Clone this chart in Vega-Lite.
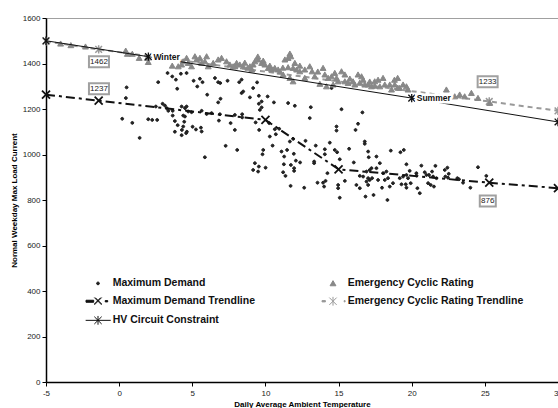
{
"$schema":"https://vega.github.io/schema/vega-lite/v6.json",
"width":512,"height":364,
"autosize":{"type":"none"},
"padding":{"left":46,"top":18,"right":0,"bottom":26},
"background":"white",
"config":{
 "font":"Liberation Sans",
 "view":{"stroke":"#a0a0a0","strokeWidth":1},
 "axis":{"grid":false,"domainColor":"#000","domainWidth":1.5,"tickColor":"#000","tickWidth":1,"tickSize":4,"labelFont":"Liberation Sans","labelFontSize":8,"labelColor":"#222","titleFont":"Liberation Sans","titleFontSize":8,"titleFontWeight":"bold","titleColor":"#000"}
},
"datasets":{
 "scatter":[
{"s":"Maximum Demand","t":0.21,"v":1157},{"s":"Maximum Demand","t":0.51,"v":1295},{"s":"Maximum Demand","t":0.46,"v":1248},{"s":"Maximum Demand","t":0.9,"v":1139},{"s":"Maximum Demand","t":1.4,"v":1073},{"s":"Maximum Demand","t":1.99,"v":1155},{"s":"Maximum Demand","t":2.26,"v":1152},{"s":"Maximum Demand","t":2.6,"v":1152},{"s":"Maximum Demand","t":2.67,"v":1318},{"s":"Maximum Demand","t":2.51,"v":1211},{"s":"Maximum Demand","t":2.97,"v":1223},{"s":"Maximum Demand","t":3.13,"v":1215},{"s":"Maximum Demand","t":3.25,"v":1204},{"s":"Maximum Demand","t":3.31,"v":1358},{"s":"Maximum Demand","t":3.63,"v":1343},{"s":"Maximum Demand","t":3.88,"v":1329},{"s":"Maximum Demand","t":4.22,"v":1355},{"s":"Maximum Demand","t":4.61,"v":1358},{"s":"Maximum Demand","t":3.97,"v":1289},{"s":"Maximum Demand","t":3.36,"v":1192},{"s":"Maximum Demand","t":3.66,"v":1192},{"s":"Maximum Demand","t":3.66,"v":1171},{"s":"Maximum Demand","t":4.27,"v":1211},{"s":"Maximum Demand","t":4.5,"v":1204},{"s":"Maximum Demand","t":4.61,"v":1211},{"s":"Maximum Demand","t":4.72,"v":1189},{"s":"Maximum Demand","t":4.38,"v":1171},{"s":"Maximum Demand","t":4.5,"v":1167},{"s":"Maximum Demand","t":4.95,"v":1186},{"s":"Maximum Demand","t":3.81,"v":1147},{"s":"Maximum Demand","t":4.45,"v":1144},{"s":"Maximum Demand","t":4.0,"v":1129},{"s":"Maximum Demand","t":4.38,"v":1123},{"s":"Maximum Demand","t":4.29,"v":1108},{"s":"Maximum Demand","t":5.02,"v":1122},{"s":"Maximum Demand","t":5.25,"v":1110},{"s":"Maximum Demand","t":5.59,"v":1118},{"s":"Maximum Demand","t":5.64,"v":1101},{"s":"Maximum Demand","t":3.81,"v":1100},{"s":"Maximum Demand","t":4.63,"v":1100},{"s":"Maximum Demand","t":4.58,"v":1094},{"s":"Maximum Demand","t":4.27,"v":1085},{"s":"Maximum Demand","t":5.09,"v":1324},{"s":"Maximum Demand","t":5.52,"v":1333},{"s":"Maximum Demand","t":5.7,"v":1318},{"s":"Maximum Demand","t":5.34,"v":1299},{"s":"Maximum Demand","t":6.02,"v":1263},{"s":"Maximum Demand","t":5.64,"v":1192},{"s":"Maximum Demand","t":5.98,"v":1178},{"s":"Maximum Demand","t":6.32,"v":1182},{"s":"Maximum Demand","t":6.55,"v":1336},{"s":"Maximum Demand","t":6.77,"v":1318},{"s":"Maximum Demand","t":6.91,"v":1314},{"s":"Maximum Demand","t":7.41,"v":1324},{"s":"Maximum Demand","t":6.93,"v":1245},{"s":"Maximum Demand","t":6.77,"v":1229},{"s":"Maximum Demand","t":6.89,"v":1177},{"s":"Maximum Demand","t":6.82,"v":1149},{"s":"Maximum Demand","t":7.62,"v":1138},{"s":"Maximum Demand","t":7.91,"v":1108},{"s":"Maximum Demand","t":7.28,"v":1038},{"s":"Maximum Demand","t":5.86,"v":988},{"s":"Maximum Demand","t":8.07,"v":1020},{"s":"Maximum Demand","t":8.37,"v":1329},{"s":"Maximum Demand","t":8.21,"v":1318},{"s":"Maximum Demand","t":8.48,"v":1277},{"s":"Maximum Demand","t":8.37,"v":1270},{"s":"Maximum Demand","t":9.16,"v":1292},{"s":"Maximum Demand","t":8.94,"v":1251},{"s":"Maximum Demand","t":9.55,"v":1258},{"s":"Maximum Demand","t":10.15,"v":1255},{"s":"Maximum Demand","t":9.43,"v":1317},{"s":"Maximum Demand","t":9.74,"v":1233},{"s":"Maximum Demand","t":9.55,"v":1223},{"s":"Maximum Demand","t":9.74,"v":1207},{"s":"Maximum Demand","t":9.62,"v":1196},{"s":"Maximum Demand","t":10.58,"v":1229},{"s":"Maximum Demand","t":7.91,"v":1174},{"s":"Maximum Demand","t":8.41,"v":1177},{"s":"Maximum Demand","t":8.41,"v":1163},{"s":"Maximum Demand","t":9.33,"v":1141},{"s":"Maximum Demand","t":10.26,"v":1138},{"s":"Maximum Demand","t":9.57,"v":1108},{"s":"Maximum Demand","t":10.64,"v":1111},{"s":"Maximum Demand","t":10.94,"v":1113},{"s":"Maximum Demand","t":10.71,"v":1089},{"s":"Maximum Demand","t":10.3,"v":1079},{"s":"Maximum Demand","t":10.49,"v":1039},{"s":"Maximum Demand","t":9.85,"v":1020},{"s":"Maximum Demand","t":9.8,"v":1001},{"s":"Maximum Demand","t":9.28,"v":962},{"s":"Maximum Demand","t":9.55,"v":947},{"s":"Maximum Demand","t":9.16,"v":932},{"s":"Maximum Demand","t":9.5,"v":925},{"s":"Maximum Demand","t":10.01,"v":942},{"s":"Maximum Demand","t":11.1,"v":1013},{"s":"Maximum Demand","t":11.48,"v":1020},{"s":"Maximum Demand","t":11.28,"v":991},{"s":"Maximum Demand","t":11.67,"v":1057},{"s":"Maximum Demand","t":11.89,"v":1069},{"s":"Maximum Demand","t":11.94,"v":1003},{"s":"Maximum Demand","t":12.74,"v":1060},{"s":"Maximum Demand","t":13.44,"v":1039},{"s":"Maximum Demand","t":11.26,"v":957},{"s":"Maximum Demand","t":11.74,"v":954},{"s":"Maximum Demand","t":11.96,"v":940},{"s":"Maximum Demand","t":11.96,"v":928},{"s":"Maximum Demand","t":12.08,"v":973},{"s":"Maximum Demand","t":12.37,"v":965},{"s":"Maximum Demand","t":11.21,"v":922},{"s":"Maximum Demand","t":11.37,"v":906},{"s":"Maximum Demand","t":13.33,"v":969},{"s":"Maximum Demand","t":13.33,"v":962},{"s":"Maximum Demand","t":11.72,"v":862},{"s":"Maximum Demand","t":12.65,"v":854},{"s":"Maximum Demand","t":14.06,"v":1023},{"s":"Maximum Demand","t":14.06,"v":1001},{"s":"Maximum Demand","t":14.4,"v":1052},{"s":"Maximum Demand","t":14.74,"v":1020},{"s":"Maximum Demand","t":14.9,"v":1010},{"s":"Maximum Demand","t":14.86,"v":1123},{"s":"Maximum Demand","t":14.86,"v":1105},{"s":"Maximum Demand","t":16.33,"v":1135},{"s":"Maximum Demand","t":16.16,"v":1108},{"s":"Maximum Demand","t":16.79,"v":1057},{"s":"Maximum Demand","t":16.79,"v":1047},{"s":"Maximum Demand","t":15.72,"v":1025},{"s":"Maximum Demand","t":17.02,"v":1013},{"s":"Maximum Demand","t":17.06,"v":988},{"s":"Maximum Demand","t":15.08,"v":979},{"s":"Maximum Demand","t":16.04,"v":965},{"s":"Maximum Demand","t":14.24,"v":918},{"s":"Maximum Demand","t":13.56,"v":876},{"s":"Maximum Demand","t":13.94,"v":876},{"s":"Maximum Demand","t":14.01,"v":859},{"s":"Maximum Demand","t":14.11,"v":884},{"s":"Maximum Demand","t":14.97,"v":866},{"s":"Maximum Demand","t":14.97,"v":852},{"s":"Maximum Demand","t":15.43,"v":884},{"s":"Maximum Demand","t":15.08,"v":810},{"s":"Maximum Demand","t":16.45,"v":906},{"s":"Maximum Demand","t":16.68,"v":903},{"s":"Maximum Demand","t":16.22,"v":866},{"s":"Maximum Demand","t":16.45,"v":852},{"s":"Maximum Demand","t":16.91,"v":925},{"s":"Maximum Demand","t":17.13,"v":932},{"s":"Maximum Demand","t":17.25,"v":940},{"s":"Maximum Demand","t":17.02,"v":896},{"s":"Maximum Demand","t":16.91,"v":881},{"s":"Maximum Demand","t":17.13,"v":888},{"s":"Maximum Demand","t":17.29,"v":896},{"s":"Maximum Demand","t":17.02,"v":866},{"s":"Maximum Demand","t":16.84,"v":815},{"s":"Maximum Demand","t":17.39,"v":822},{"s":"Maximum Demand","t":13.1,"v":1208},{"s":"Maximum Demand","t":11.55,"v":1226},{"s":"Maximum Demand","t":12.01,"v":1214},{"s":"Maximum Demand","t":13.03,"v":1160},{"s":"Maximum Demand","t":15.2,"v":1199},{"s":"Maximum Demand","t":16.63,"v":1185},{"s":"Maximum Demand","t":14.52,"v":1292},{"s":"Maximum Demand","t":17.59,"v":991},{"s":"Maximum Demand","t":17.82,"v":962},{"s":"Maximum Demand","t":17.59,"v":940},{"s":"Maximum Demand","t":18.57,"v":1017},{"s":"Maximum Demand","t":19.23,"v":1010},{"s":"Maximum Demand","t":19.46,"v":1020},{"s":"Maximum Demand","t":19.64,"v":957},{"s":"Maximum Demand","t":18.27,"v":925},{"s":"Maximum Demand","t":18.04,"v":918},{"s":"Maximum Demand","t":18.38,"v":896},{"s":"Maximum Demand","t":18.16,"v":888},{"s":"Maximum Demand","t":17.7,"v":888},{"s":"Maximum Demand","t":18.72,"v":874},{"s":"Maximum Demand","t":18.5,"v":859},{"s":"Maximum Demand","t":17.97,"v":854},{"s":"Maximum Demand","t":19.18,"v":896},{"s":"Maximum Demand","t":19.41,"v":903},{"s":"Maximum Demand","t":19.64,"v":910},{"s":"Maximum Demand","t":19.75,"v":896},{"s":"Maximum Demand","t":19.86,"v":928},{"s":"Maximum Demand","t":19.3,"v":869},{"s":"Maximum Demand","t":19.59,"v":869},{"s":"Maximum Demand","t":19.64,"v":854},{"s":"Maximum Demand","t":19.93,"v":874},{"s":"Maximum Demand","t":20.32,"v":918},{"s":"Maximum Demand","t":20.32,"v":907},{"s":"Maximum Demand","t":20.66,"v":951},{"s":"Maximum Demand","t":20.89,"v":922},{"s":"Maximum Demand","t":21.01,"v":910},{"s":"Maximum Demand","t":21.18,"v":910},{"s":"Maximum Demand","t":21.39,"v":925},{"s":"Maximum Demand","t":21.62,"v":950},{"s":"Maximum Demand","t":21.46,"v":903},{"s":"Maximum Demand","t":21.69,"v":896},{"s":"Maximum Demand","t":21.12,"v":874},{"s":"Maximum Demand","t":21.3,"v":866},{"s":"Maximum Demand","t":21.52,"v":859},{"s":"Maximum Demand","t":20.39,"v":852},{"s":"Maximum Demand","t":20.55,"v":830},{"s":"Maximum Demand","t":18.34,"v":800},{"s":"Maximum Demand","t":22.26,"v":932},{"s":"Maximum Demand","t":22.44,"v":942},{"s":"Maximum Demand","t":22.53,"v":915},{"s":"Maximum Demand","t":22.3,"v":903},{"s":"Maximum Demand","t":22.48,"v":898},{"s":"Maximum Demand","t":23.12,"v":896},{"s":"Maximum Demand","t":23.23,"v":891},{"s":"Maximum Demand","t":23.51,"v":876},{"s":"Maximum Demand","t":24.01,"v":854},{"s":"Maximum Demand","t":24.53,"v":944},{"s":"Maximum Demand","t":25.1,"v":906},
{"s":"Emergency Cyclic Rating","t":-4.0,"v":1487},{"s":"Emergency Cyclic Rating","t":-3.3,"v":1480},{"s":"Emergency Cyclic Rating","t":-2.3,"v":1474},{"s":"Emergency Cyclic Rating","t":0.45,"v":1456},{"s":"Emergency Cyclic Rating","t":0.56,"v":1442},{"s":"Emergency Cyclic Rating","t":0.9,"v":1442},{"s":"Emergency Cyclic Rating","t":1.37,"v":1424},{"s":"Emergency Cyclic Rating","t":1.92,"v":1424},{"s":"Emergency Cyclic Rating","t":1.99,"v":1406},{"s":"Emergency Cyclic Rating","t":3.63,"v":1390},{"s":"Emergency Cyclic Rating","t":4.38,"v":1409},{"s":"Emergency Cyclic Rating","t":4.61,"v":1424},{"s":"Emergency Cyclic Rating","t":4.72,"v":1402},{"s":"Emergency Cyclic Rating","t":4.95,"v":1387},{"s":"Emergency Cyclic Rating","t":5.18,"v":1431},{"s":"Emergency Cyclic Rating","t":5.29,"v":1417},{"s":"Emergency Cyclic Rating","t":5.52,"v":1424},{"s":"Emergency Cyclic Rating","t":5.64,"v":1402},{"s":"Emergency Cyclic Rating","t":5.86,"v":1409},{"s":"Emergency Cyclic Rating","t":5.98,"v":1431},{"s":"Emergency Cyclic Rating","t":6.09,"v":1387},{"s":"Emergency Cyclic Rating","t":6.43,"v":1402},{"s":"Emergency Cyclic Rating","t":6.77,"v":1417},{"s":"Emergency Cyclic Rating","t":7.0,"v":1424},{"s":"Emergency Cyclic Rating","t":7.34,"v":1409},{"s":"Emergency Cyclic Rating","t":7.57,"v":1395},{"s":"Emergency Cyclic Rating","t":7.79,"v":1387},{"s":"Emergency Cyclic Rating","t":4.27,"v":1395},{"s":"Emergency Cyclic Rating","t":4.04,"v":1387},{"s":"Emergency Cyclic Rating","t":8.25,"v":1395},{"s":"Emergency Cyclic Rating","t":8.48,"v":1387},{"s":"Emergency Cyclic Rating","t":8.94,"v":1387},{"s":"Emergency Cyclic Rating","t":9.28,"v":1409},{"s":"Emergency Cyclic Rating","t":9.5,"v":1417},{"s":"Emergency Cyclic Rating","t":9.74,"v":1402},{"s":"Emergency Cyclic Rating","t":9.85,"v":1412},{"s":"Emergency Cyclic Rating","t":9.96,"v":1395},{"s":"Emergency Cyclic Rating","t":10.19,"v":1380},{"s":"Emergency Cyclic Rating","t":10.42,"v":1373},{"s":"Emergency Cyclic Rating","t":10.64,"v":1380},{"s":"Emergency Cyclic Rating","t":10.87,"v":1373},{"s":"Emergency Cyclic Rating","t":11.33,"v":1417},{"s":"Emergency Cyclic Rating","t":11.55,"v":1424},{"s":"Emergency Cyclic Rating","t":11.74,"v":1431},{"s":"Emergency Cyclic Rating","t":12.01,"v":1402},{"s":"Emergency Cyclic Rating","t":12.13,"v":1373},{"s":"Emergency Cyclic Rating","t":12.35,"v":1365},{"s":"Emergency Cyclic Rating","t":11.55,"v":1383},{"s":"Emergency Cyclic Rating","t":11.89,"v":1380},{"s":"Emergency Cyclic Rating","t":11.21,"v":1351},{"s":"Emergency Cyclic Rating","t":11.67,"v":1336},{"s":"Emergency Cyclic Rating","t":11.89,"v":1321},{"s":"Emergency Cyclic Rating","t":12.69,"v":1336},{"s":"Emergency Cyclic Rating","t":13.03,"v":1387},{"s":"Emergency Cyclic Rating","t":13.19,"v":1365},{"s":"Emergency Cyclic Rating","t":13.37,"v":1343},{"s":"Emergency Cyclic Rating","t":13.94,"v":1380},{"s":"Emergency Cyclic Rating","t":14.06,"v":1351},{"s":"Emergency Cyclic Rating","t":14.29,"v":1336},{"s":"Emergency Cyclic Rating","t":14.52,"v":1343},{"s":"Emergency Cyclic Rating","t":14.74,"v":1358},{"s":"Emergency Cyclic Rating","t":14.86,"v":1336},{"s":"Emergency Cyclic Rating","t":14.97,"v":1321},{"s":"Emergency Cyclic Rating","t":15.2,"v":1365},{"s":"Emergency Cyclic Rating","t":15.43,"v":1321},{"s":"Emergency Cyclic Rating","t":15.65,"v":1314},{"s":"Emergency Cyclic Rating","t":15.99,"v":1321},{"s":"Emergency Cyclic Rating","t":16.33,"v":1351},{"s":"Emergency Cyclic Rating","t":16.57,"v":1343},{"s":"Emergency Cyclic Rating","t":16.68,"v":1328},{"s":"Emergency Cyclic Rating","t":17.02,"v":1307},{"s":"Emergency Cyclic Rating","t":17.25,"v":1299},{"s":"Emergency Cyclic Rating","t":14.63,"v":1307},{"s":"Emergency Cyclic Rating","t":14.17,"v":1299},{"s":"Emergency Cyclic Rating","t":13.72,"v":1310},{"s":"Emergency Cyclic Rating","t":8.03,"v":1402},{"s":"Emergency Cyclic Rating","t":7.91,"v":1387},{"s":"Emergency Cyclic Rating","t":9.16,"v":1395},{"s":"Emergency Cyclic Rating","t":9.48,"v":1430},{"s":"Emergency Cyclic Rating","t":11.67,"v":1443},{"s":"Emergency Cyclic Rating","t":17.47,"v":1321},{"s":"Emergency Cyclic Rating","t":17.7,"v":1328},{"s":"Emergency Cyclic Rating","t":18.04,"v":1336},{"s":"Emergency Cyclic Rating","t":17.82,"v":1299},{"s":"Emergency Cyclic Rating","t":18.16,"v":1307},{"s":"Emergency Cyclic Rating","t":18.5,"v":1307},{"s":"Emergency Cyclic Rating","t":18.62,"v":1285},{"s":"Emergency Cyclic Rating","t":19.18,"v":1292},{"s":"Emergency Cyclic Rating","t":19.41,"v":1307},{"s":"Emergency Cyclic Rating","t":19.64,"v":1299},{"s":"Emergency Cyclic Rating","t":19.75,"v":1285},{"s":"Emergency Cyclic Rating","t":22.37,"v":1285},{"s":"Emergency Cyclic Rating","t":22.94,"v":1255},{"s":"Emergency Cyclic Rating","t":23.28,"v":1263},{"s":"Emergency Cyclic Rating","t":23.62,"v":1255},{"s":"Emergency Cyclic Rating","t":24.08,"v":1270},{"s":"Emergency Cyclic Rating","t":24.53,"v":1248},{"s":"Emergency Cyclic Rating","t":25.33,"v":1226},{"s":"Emergency Cyclic Rating","t":19.04,"v":1336},{"s":"Emergency Cyclic Rating","t":18.82,"v":1328},{"s":"Emergency Cyclic Rating","t":8.59,"v":1403},{"s":"Emergency Cyclic Rating","t":8.8,"v":1381},{"s":"Emergency Cyclic Rating","t":9.07,"v":1373},{"s":"Emergency Cyclic Rating","t":10.3,"v":1390},{"s":"Emergency Cyclic Rating","t":10.99,"v":1364},{"s":"Emergency Cyclic Rating","t":11.19,"v":1381},{"s":"Emergency Cyclic Rating","t":12.35,"v":1390},{"s":"Emergency Cyclic Rating","t":12.69,"v":1373},{"s":"Emergency Cyclic Rating","t":13.58,"v":1364},{"s":"Emergency Cyclic Rating","t":15.43,"v":1351},{"s":"Emergency Cyclic Rating","t":15.77,"v":1333},{"s":"Emergency Cyclic Rating","t":16.11,"v":1307},{"s":"Emergency Cyclic Rating","t":16.45,"v":1315},{"s":"Emergency Cyclic Rating","t":16.79,"v":1307},{"s":"Emergency Cyclic Rating","t":17.13,"v":1320},{"s":"Emergency Cyclic Rating","t":17.47,"v":1302},{"s":"Emergency Cyclic Rating","t":18.84,"v":1307},{"s":"Emergency Cyclic Rating","t":19.05,"v":1293}
 ],
 "mdt":[{"t":-5,"v":1263},{"t":-1.4,"v":1237},{"t":10,"v":1152},{"t":15,"v":935},{"t":25.3,"v":876},{"t":30,"v":852}],
 "ecrt":[{"t":-5,"v":1497},{"t":-1.4,"v":1462},{"t":25.3,"v":1233},{"t":30,"v":1192}],
 "hv":[{"t":-5,"v":1500},{"t":2,"v":1430},{"t":20,"v":1248},{"t":30,"v":1143}],
 "seasons":[{"label":"Winter","t":2,"v":1430},{"label":"Summer","t":20,"v":1248}],
 "boxes":[{"label":"1462","t":-1.38,"v":1408},{"label":"1237","t":-1.38,"v":1289},{"label":"1233","t":25.19,"v":1320},{"label":"876","t":25.2,"v":796}]
},
"encoding":{
 "x":{"field":"t","type":"quantitative","scale":{"domain":[-5,30],"nice":false,"zero":false},
  "axis":{"title":"Daily Average Ambient Temperature","values":[-5,0,5,10,15,20,25,30],"labelExpr":"''+datum.value","labelPadding":3,"titlePadding":3,"labelFlush":false}},
 "y":{"field":"v","type":"quantitative","scale":{"domain":[0,1600],"nice":false},
  "axis":{"title":"Normal Weekday Max Load Current","values":[0,200,400,600,800,1000,1200,1400,1600],"labelExpr":"''+datum.value","labelPadding":2,"titlePadding":4}}
},
"layer":[
 {"data":{"name":"ecrt"},"mark":{"type":"line","color":"#999","strokeWidth":2,"strokeDash":[5,4]}},
 {"data":{"name":"ecrt"},"mark":{"type":"point","shape":"M-0.8,-0.8L0.8,0.8M-0.8,0.8L0.8,-0.8M0,-1L0,1","size":70,"filled":false,"stroke":"#999","strokeWidth":1.5,"opacity":1}},
 {"data":{"name":"scatter"},"mark":{"type":"point","filled":true,"size":335,"opacity":1,"strokeWidth":1},
  "encoding":{
   "fill":{"field":"s","type":"nominal",
    "scale":{"domain":["Maximum Demand","Maximum Demand Trendline","HV Circuit Constraint","Emergency Cyclic Rating","Emergency Cyclic Rating Trendline"],"range":["#222","#111","#111","#888","#999"]},
    "legend":{"orient":"none","legendX":42,"legendY":255.15,"columns":2,"title":null,"symbolSize":335,"labelFontSize":10.5,"labelFontWeight":"bold","labelFont":"Liberation Sans","labelColor":"#111","labelOffset":4.65,"columnPadding":64,"rowPadding":2.1,"labelLimit":300,"symbolStrokeWidth":1}},
   "stroke":{"field":"s","type":"nominal",
    "scale":{"domain":["Maximum Demand","Maximum Demand Trendline","HV Circuit Constraint","Emergency Cyclic Rating","Emergency Cyclic Rating Trendline"],"range":["#222","#111","#111","#888","#999"]},
    "legend":{"orient":"none","legendX":42,"legendY":255.15,"columns":2,"title":null,"symbolSize":335,"labelFontSize":10.5,"labelFontWeight":"bold","labelFont":"Liberation Sans","labelColor":"#111","labelOffset":4.65,"columnPadding":64,"rowPadding":2.1,"labelLimit":300,"symbolStrokeWidth":1}},
   "shape":{"field":"s","type":"nominal",
    "scale":{"domain":["Maximum Demand","Maximum Demand Trendline","HV Circuit Constraint","Emergency Cyclic Rating","Emergency Cyclic Rating Trendline"],
     "range":["M-0.16,0L-0.11,0.11L0,0.16L0.11,0.11L0.16,0L0.11,-0.11L0,-0.16L-0.11,-0.11Z",
      "M-1.31,-0.11L-0.47,-0.11L-0.47,0.11L-1.31,0.11ZM-0.4,-0.4L0.4,0.4M-0.4,0.4L0.4,-0.4M-0.3,-0.4L0.4,0.3M-0.4,0.3L0.3,-0.4M0.79,-0.07L1.06,-0.07L1.06,0.07L0.79,0.07Z",
      "M-1.35,0L1.39,0M-0.4,-0.4L0.4,0.4M-0.4,0.4L0.4,-0.4M0,-0.48L0,0.48",
      "M0,-0.3L0.32,0.26L-0.32,0.26Z",
      "M-1.2,-0.07L-0.83,-0.07L-0.83,0.07L-1.2,0.07ZM-0.4,-0.4L0.4,0.4M-0.4,0.4L0.4,-0.4M0,-0.48L0,0.48M1.22,-0.07L1.32,-0.07L1.32,0.07L1.22,0.07Z"]},
    "legend":{"orient":"none","legendX":42,"legendY":255.15,"columns":2,"title":null,"symbolSize":335,"labelFontSize":10.5,"labelFontWeight":"bold","labelFont":"Liberation Sans","labelColor":"#111","labelOffset":4.65,"columnPadding":64,"rowPadding":2.1,"labelLimit":300,"symbolStrokeWidth":1}}
  }},
 {"data":{"name":"mdt"},"mark":{"type":"line","color":"#111","strokeWidth":2,"strokeDash":[9,4,3,4]}},
 {"data":{"name":"mdt"},"mark":{"type":"point","shape":"M-1,-1L1,1M-1,1L1,-1","size":64,"filled":false,"stroke":"#111","strokeWidth":1.8,"opacity":1}},
 {"data":{"name":"hv"},"mark":{"type":"line","color":"#111","strokeWidth":1}},
 {"data":{"name":"hv"},"mark":{"type":"point","shape":"M-0.8,-0.8L0.8,0.8M-0.8,0.8L0.8,-0.8M0,-1L0,1","size":70,"filled":false,"stroke":"#111","strokeWidth":1.3,"opacity":1}},
 {"data":{"name":"seasons"},"mark":{"type":"text","align":"left","baseline":"middle","dx":5,"fontSize":8.5,"fontWeight":"bold","fill":"white","stroke":"white","strokeWidth":5,"strokeJoin":"round"},"encoding":{"text":{"field":"label"}}},
 {"data":{"name":"seasons"},"mark":{"type":"text","align":"left","baseline":"middle","dx":5,"fontSize":8.5,"fontWeight":"bold","fill":"#111"},"encoding":{"text":{"field":"label"}}},
 {"data":{"name":"boxes"},"mark":{"type":"point","filled":true,"fill":"white","stroke":"#a0a0a0","strokeWidth":2,"opacity":1},
  "encoding":{"size":{"condition":{"test":"length(datum.label)<4","value":256},"value":400},
   "shape":{"condition":{"test":"length(datum.label)<4","value":"M-1,-0.69L1,-0.69L1,0.69L-1,0.69Z"},"value":"M-1,-0.55L1,-0.55L1,0.55L-1,0.55Z"}}},
 {"data":{"name":"boxes"},"mark":{"type":"text","align":"center","baseline":"middle","fontSize":8,"fill":"#222"},"encoding":{"text":{"field":"label"}}}
]
}
